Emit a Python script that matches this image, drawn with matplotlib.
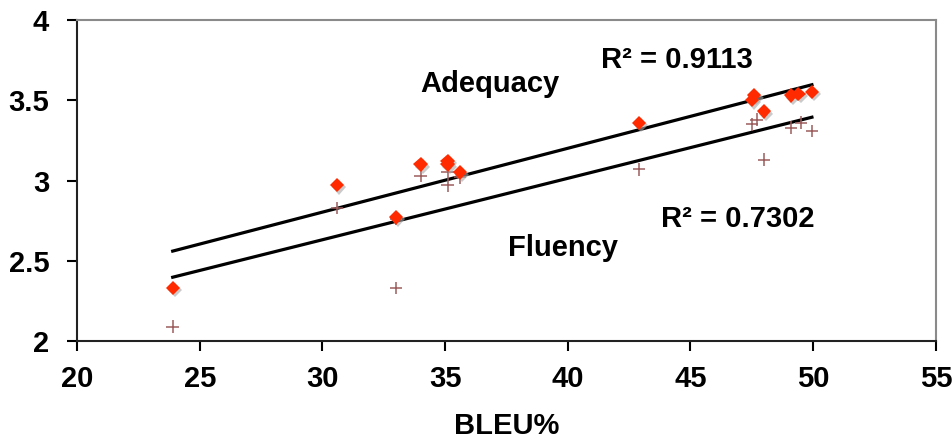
import numpy as np
import matplotlib
matplotlib.use("Agg")
import matplotlib.pyplot as plt
import matplotlib.patheffects as pe

plt.rcParams['font.family'] = ['Liberation Sans', 'DejaVu Sans']
plt.rcParams['font.weight'] = 'bold'

# BLEU% per system, with human adequacy / fluency scores
bleu_adequacy = [23.9, 30.6, 33.0, 34.0, 35.1, 35.1, 35.6, 42.9, 47.6, 47.5, 48.0, 49.1, 49.4, 49.95]
adequacy = [2.33, 2.97, 2.77, 3.10, 3.12, 3.10, 3.05, 3.36, 3.53, 3.50, 3.43, 3.53, 3.54, 3.55]

bleu_fluency = [23.9, 30.6, 33.0, 33.0, 34.0, 35.1, 35.1, 35.6, 42.9, 47.5, 47.7, 48.0, 49.1, 49.5, 49.95]
fluency = [2.09, 2.83, 2.33, 2.76, 3.03, 3.05, 2.97, 3.02, 3.07, 3.35, 3.38, 3.13, 3.33, 3.36, 3.31]

x_ticks = [20, 25, 30, 35, 40, 45, 50, 55]
y_ticks = [2, 2.5, 3, 3.5, 4]

shadow = [pe.SimplePatchShadow(offset=(1.5, -1.5), shadow_rgbFace='#a8a8a8', alpha=0.6), pe.Normal()]

fig = plt.figure(figsize=(9.53, 4.41), dpi=100)
ax = fig.add_axes([0.0808, 0.2268, 0.9012, 0.7278])

# trend lines (linear fit)
for xs, ys in [(bleu_adequacy, adequacy), (bleu_fluency, fluency)]:
    k, b = np.polyfit(xs, ys, 1)
    xx = np.array([min(xs), max(xs)])
    ax.plot(xx, k * xx + b, color='black', linewidth=2.3, zorder=2)

ax.plot(bleu_fluency, fluency, linestyle='none', marker='+', markersize=9,
        markeredgewidth=1.1, color='#9c5c5c', path_effects=shadow, zorder=3)
ax.plot(bleu_adequacy, adequacy, linestyle='none', marker='D', markersize=7.3,
        color='#ff2a00', markeredgewidth=0, path_effects=shadow, zorder=4)

ax.text(44.45, 3.75, 'R² = 0.9113', ha='center', va='center', fontsize=21, fontweight='bold')
ax.text(36.83, 3.60, 'Adequacy', ha='center', va='center', fontsize=21, fontweight='bold')
ax.text(46.94, 2.76, 'R² = 0.7302', ha='center', va='center', fontsize=21, fontweight='bold')
ax.text(39.8, 2.58, 'Fluency', ha='center', va='center', fontsize=21, fontweight='bold')

ax.set_xlim(20, 55)
ax.set_ylim(2, 4)
ax.set_xticks(x_ticks)
ax.set_yticks(y_ticks)
ax.set_yticklabels(['2', '2.5', '3', '3.5', '4'])
ax.tick_params(axis='both', direction='out', length=7, width=1.5, labelsize=21)
ax.tick_params(axis='y', pad=13)
ax.tick_params(axis='x', pad=10)
for lab in ax.get_xticklabels() + ax.get_yticklabels():
    lab.set_fontweight('bold')

ax.set_xlabel('BLEU%', fontsize=21, fontweight='bold', labelpad=14)

for side in ['left', 'bottom']:
    ax.spines[side].set_color('#222222')
    ax.spines[side].set_linewidth(1.5)
for side in ['top', 'right']:
    ax.spines[side].set_color('#8a8a8a')
    ax.spines[side].set_linewidth(1.5)

fig.savefig('out.png', dpi=100)
